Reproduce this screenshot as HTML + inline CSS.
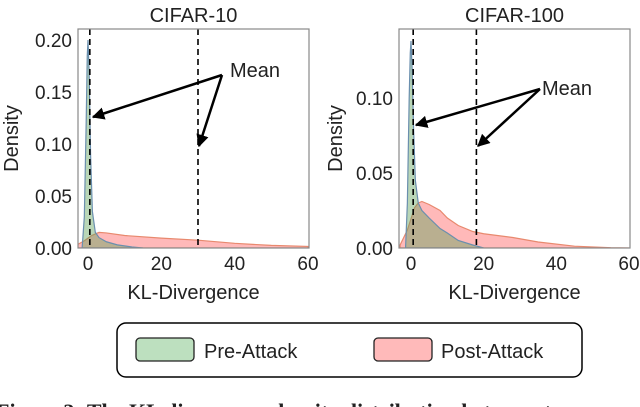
<!DOCTYPE html>
<html><head><meta charset="utf-8"><style>
html,body{margin:0;padding:0;background:#fff;width:640px;height:407px;overflow:hidden}
svg text{font-family:"Liberation Sans",sans-serif;fill:#222}
</style></head><body>
<svg id="fig" width="640" height="407" viewBox="0 0 640 407">
<defs>
<marker id="ah" viewBox="0 0 10 10" refX="9" refY="5" markerWidth="5" markerHeight="5" orient="auto-start-reverse"><path d="M0,0 L10,5 L0,10 z" fill="#000"/></marker>
</defs>
<g id="left"></g>
<g id="right"></g>
<g>
<rect x="117" y="323" width="465" height="54" rx="9" fill="#fff" stroke="#000" stroke-width="1.5"/>
<rect x="136" y="338" width="58" height="23" rx="4" fill="#bde0bf" stroke="#222" stroke-width="1.3"/>
<text x="204" y="358" font-size="20">Pre-Attack</text>
<rect x="374" y="338" width="58" height="23" rx="4" fill="#ffbaba" stroke="#222" stroke-width="1.3"/>
<text x="441" y="358" font-size="20">Post-Attack</text>
</g>
<text x="-4" y="419" font-size="22" font-weight="bold" style="font-family:'Liberation Serif',serif">Figure 3: The KL divergence density distribution between tensors and</text>
</svg>
<script>
// CIFAR-10 data
const c10PreX = [-1.6,-1.0,-0.5,-0.2,0,0.3,0.7,1.2,2,3,5,8,12,15];
const c10PreY = [0,0.03,0.12,0.185,0.2,0.17,0.09,0.035,0.015,0.01,0.006,0.003,0.001,0];
const c10PostX = [-3,-1,1,3,5,10,20,30,40,50,60];
const c10PostY = [0.003,0.007,0.012,0.015,0.0145,0.012,0.0095,0.0075,0.0045,0.0025,0.0015];
const c10Means = [0.5,30];
const c10YTicks = [0,0.05,0.10,0.15,0.20];
// CIFAR-100 data
const c100PreX = [-1.5,-1,-0.5,-0.2,0,0.3,0.7,1.2,2,3,5,8,10,13,17,20];
const c100PreY = [0,0.03,0.1,0.13,0.138,0.12,0.08,0.045,0.03,0.025,0.02,0.013,0.01,0.005,0.002,0];
const c100PostX = [-3,-1,1,2,3,5,8,10,13,17,20,28,35,45,55,60];
const c100PostY = [0.002,0.012,0.027,0.03,0.031,0.029,0.025,0.02,0.015,0.011,0.0095,0.007,0.004,0.0012,0.0002,0];
const c100Means = [0.6,18];
const c100YTicks = [0,0.05,0.10];
const xTicks = [0,20,40,60];

const NS='http://www.w3.org/2000/svg';
function mk(parent,tag,attrs){const e=document.createElementNS(NS,tag);for(const k in attrs)e.setAttribute(k,attrs[k]);parent.appendChild(e);return e;}

function panel(g,cfg){
  const {L,R,T,B,x0,x60,yMax,title,preX,preY,postX,postY,means,yTicks,mean,arrows}=cfg;
  const sx=v=>x0+(x60-x0)*v/60;
  const sy=v=>B-(B-T)*v/yMax;
  const t=mk(g,'text',{x:(L+R)/2,y:22,'font-size':20,'text-anchor':'middle'});t.textContent=title;
  
  
  function area(xs,ys,fill,stroke,name){
    let d='M'+sx(xs[0])+','+sy(0);
    xs.forEach((x,i)=>{d+=' L'+sx(x)+','+sy(ys[i]);});
    d+=' L'+sx(xs[xs.length-1])+','+sy(0)+' Z';
    const p=mk(g,'path',{d:d,fill:fill,stroke:stroke,'stroke-width':1.2,'clip-path':'url(#'+cfg.id+'c)'});
    
    
  }
  mk(mk(g,'clipPath',{id:cfg.id+'c'}),'rect',{x:L,y:T,width:R-L,height:B-T});
  area(postX,postY,'#ffb9b9','#e8896e','post-attack-density');
  area(preX,preY,'rgba(100,165,95,0.45)','#6a8fae','pre-attack-density');
  means.forEach(m=>{
    const l=mk(g,'line',{x1:sx(m),x2:sx(m),y1:T,y2:B,stroke:'#000','stroke-width':1.6,'stroke-dasharray':'6,4'});
    
    
  });
  const f=mk(g,'rect',{x:L,y:T,width:R-L,height:B-T,fill:'none',stroke:'#888','stroke-width':1.2});
  
  
  yTicks.forEach(v=>{
    const tx=mk(g,'text',{x:L-6,y:sy(v)+7,'font-size':19,'text-anchor':'end'});tx.textContent=v.toFixed(2);
    
    
  });
  xTicks.forEach(v=>{
    const tx=mk(g,'text',{x:sx(v),y:B+22,'font-size':19,'text-anchor':'middle'});tx.textContent=v;
    
    
  });
  const xl=mk(g,'text',{x:(L+R)/2,y:B+51,'font-size':20,'text-anchor':'middle'});xl.textContent='KL-Divergence';
  
  
  const yl=mk(g,'text',{x:0,y:0,'font-size':20,'text-anchor':'middle',transform:'translate('+(cfg.ylx)+','+((T+B)/2)+') rotate(-90)'});yl.textContent='Density';
  
  
  const mt=mk(g,'text',{x:mean[0],y:mean[1],'font-size':20});mt.textContent='Mean';
  
  
  arrows.forEach(a=>{
    const l=mk(g,'line',{x1:a[0],y1:a[1],x2:a[2],y2:a[3],stroke:'#000','stroke-width':2.5,'marker-end':'url(#ah)'});
    
    
  });
}
panel(document.getElementById('left'),{id:'l',L:78,R:309,T:29,B:248,x0:88,x60:308,yMax:0.2106,title:'CIFAR-10',
  preX:c10PreX,preY:c10PreY,postX:c10PostX,postY:c10PostY,means:c10Means,yTicks:c10YTicks,ylx:18,
  mean:[230,77],arrows:[[222,75,93,117],[222,75,199,146]]});
panel(document.getElementById('right'),{id:'r',L:399,R:630,T:29,B:248,x0:411,x60:629,yMax:0.146,title:'CIFAR-100',
  preX:c100PreX,preY:c100PreY,postX:c100PostX,postY:c100PostY,means:c100Means,yTicks:c100YTicks,ylx:342,
  mean:[542,95],arrows:[[540,89,416,125],[540,89,478,146]]});
</script>
</body></html>
